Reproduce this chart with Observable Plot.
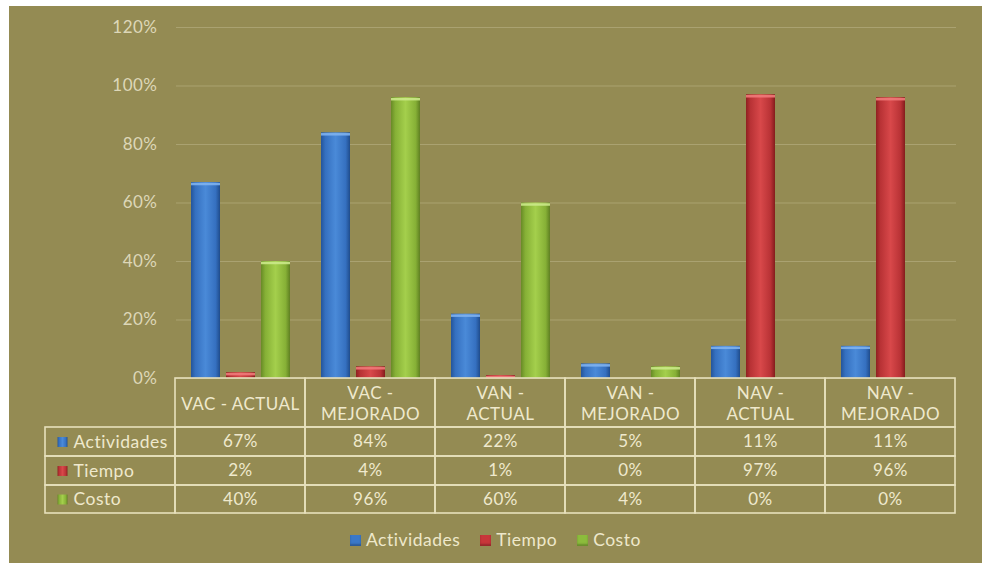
<!DOCTYPE html>
<html>
<head>
<meta charset="utf-8">
<script src="https://cdn.jsdelivr.net/npm/d3@7"></script>
<script src="https://cdn.jsdelivr.net/npm/@observablehq/plot@0.6"></script>
<style>
  html, body { margin: 0; padding: 0; background: #ffffff; }
  #wrap { position: relative; width: 982px; height: 563px; overflow: hidden; background: #ffffff; font-family: Lato, "Open Sans", sans-serif; }
  #bg { position: absolute; left: 9px; top: 6px; right: 0; bottom: 0; background: #948b53; }
  #chart, #table { position: absolute; left: 0; }
  #chart { top: 0; }
  #table { top: 377px; }
  #legend { position: absolute; top: 529px; left: 350px; display: flex; align-items: center; font-size: 17.5px; letter-spacing: 0.5px; color: #eee8cb; line-height: 22px; }
  #legend .item { display: flex; align-items: center; margin-right: 20px; }
  #legend .sw { width: 11px; height: 11px; margin-right: 5px; }
</style>
</head>
<body>
<svg width="0" height="0" style="position:absolute">
  <defs>
    <linearGradient id="gBlue" x1="0" x2="1" y1="0" y2="0">
      <stop offset="0" stop-color="#24559a"/>
      <stop offset="0.15" stop-color="#3570c0"/>
      <stop offset="0.5" stop-color="#4a8ad8"/>
      <stop offset="0.85" stop-color="#3570c0"/>
      <stop offset="1" stop-color="#1f4c8c"/>
    </linearGradient>
    <linearGradient id="gRed" x1="0" x2="1" y1="0" y2="0">
      <stop offset="0" stop-color="#8e2020"/>
      <stop offset="0.15" stop-color="#b83235"/>
      <stop offset="0.5" stop-color="#d8484a"/>
      <stop offset="0.85" stop-color="#b83235"/>
      <stop offset="1" stop-color="#841c1c"/>
    </linearGradient>
    <linearGradient id="gGreen" x1="0" x2="1" y1="0" y2="0">
      <stop offset="0" stop-color="#688a26"/>
      <stop offset="0.15" stop-color="#86b036"/>
      <stop offset="0.5" stop-color="#a4cf4c"/>
      <stop offset="0.85" stop-color="#86b036"/>
      <stop offset="1" stop-color="#5f7f22"/>
    </linearGradient>
  </defs>
</svg>
<div id="wrap">
  <div id="bg"></div>
  <div id="chart"></div>
  <div id="table"></div>
  <div id="legend"></div>
</div>
<script>
const categories = ["VAC - ACTUAL", "VAC - MEJORADO", "VAN - ACTUAL", "VAN - MEJORADO", "NAV - ACTUAL", "NAV - MEJORADO"];
const headerLabels = ["VAC - ACTUAL", "VAC -\nMEJORADO", "VAN -\nACTUAL", "VAN -\nMEJORADO", "NAV -\nACTUAL", "NAV -\nMEJORADO"];
const series = ["Actividades", "Tiempo", "Costo"];
const actividades = [67, 84, 22, 5, 11, 11];
const tiempo = [2, 4, 1, 0, 97, 96];
const costo = [40, 96, 60, 4, 0, 0];
const yTicks = [0, 20, 40, 60, 80, 100, 120];

const seriesValues = {Actividades: actividades, Tiempo: tiempo, Costo: costo};
const seriesFills = ["url(#gBlue)", "url(#gRed)", "url(#gGreen)"];
const capColors = {Actividades: "#7fb2ee", Tiempo: "#f07a7a", Costo: "#cbe98a"};
const swatchColors = {Actividades: "#3a78c8", Tiempo: "#c8363a", Costo: "#8cbc3c"};

const barData = [];
categories.forEach((c, i) => series.forEach(s => barData.push({category: c, series: s, value: seriesValues[s][i]})));

const cream = "#efe9cd";
const fontFamily = "Lato, 'Open Sans', sans-serif";

const capMarks = series.map(s => Plot.tickY(barData.filter(d => d.series === s && d.value > 0), {
  fx: "category", x: "series", y: "value", stroke: capColors[s], strokeWidth: 2.5, dy: 1.5, strokeOpacity: 0.9
}));

const chart = Plot.plot({
  width: 982,
  height: 385,
  marginTop: 27,
  marginBottom: 7,
  marginLeft: 174,
  marginRight: 25,
  style: {background: "transparent", fontFamily, fontSize: "17px", letterSpacing: "0.5px", color: "#ddd7b8", overflow: "visible"},
  fx: {domain: categories, padding: 0, axis: null, label: null},
  x: {domain: series, paddingInner: 1 / 6, paddingOuter: 0.394, axis: null},
  y: {domain: [0, 120], ticks: yTicks, tickFormat: d => d + "%", tickSize: 0, tickPadding: 19, label: null},
  color: {domain: series, range: seriesFills},
  marks: [
    Plot.gridY(yTicks, {stroke: "#aaa271", strokeOpacity: 1, strokeWidth: 1}),
    Plot.barY(barData, {fx: "category", x: "series", y: "value", fill: "series", inset: 0}),
    ...capMarks
  ]
});
document.getElementById("chart").appendChild(chart);

// table below the chart
const rowEdges = [0, 49, 78, 107, 135];
const columns = ["", ...categories];
const tableCells = [];
categories.forEach(c => tableCells.push({col: c, y1: rowEdges[0], y2: rowEdges[1]}));
series.forEach((s, r) => columns.forEach(c => tableCells.push({col: c, y1: rowEdges[r + 1], y2: rowEdges[r + 2]})));
const headerText = categories.map((c, i) => ({col: c, yc: (rowEdges[0] + rowEdges[1]) / 2, label: headerLabels[i]}));
const valueText = [];
series.forEach((s, r) => categories.forEach((c, i) => valueText.push({col: c, yc: (rowEdges[r + 1] + rowEdges[r + 2]) / 2, label: seriesValues[s][i] + "%"})));
const rowLabels = series.map((s, r) => ({col: "", yc: (rowEdges[r + 1] + rowEdges[r + 2]) / 2, series: s}));

const table = Plot.plot({
  width: 982,
  height: 138,
  marginTop: 1,
  marginBottom: 2,
  marginLeft: 43.5,
  marginRight: 25,
  style: {background: "transparent", fontFamily, fontSize: "17px", letterSpacing: "0.5px", color: cream, overflow: "visible"},
  x: {type: "band", domain: columns, padding: 0, axis: null},
  y: {domain: [0, 135], reverse: true, axis: null},
  color: {domain: series, range: seriesFills},
  marks: [
    Plot.barY(tableCells, {x: "col", y1: "y1", y2: "y2", fill: "none", stroke: "#e7e0bc", strokeWidth: 1.6, inset: 0}),
    Plot.text(headerText, {x: "col", y: "yc", text: "label", fill: cream, fontSize: 17, lineHeight: 1.2}),
    Plot.text(valueText, {x: "col", y: "yc", text: "label", fill: cream, fontSize: 17}),
    Plot.dot(rowLabels, {x: "col", y: "yc", symbol: "square", r: 5.6, fill: "series", dx: -48}),
    Plot.text(rowLabels, {x: "col", y: "yc", text: "series", textAnchor: "start", dx: -37, fill: cream, fontSize: 17.5})
  ]
});
document.getElementById("table").appendChild(table);

// legend
const legend = document.getElementById("legend");
series.forEach((s, i) => {
  const item = document.createElement("div");
  item.className = "item";
  const sw = document.createElement("div");
  sw.className = "sw";
  sw.style.background = swatchColors[s];
  sw.style.boxShadow = "inset 0 -2px 2px rgba(0,0,0,0.25)";
  const label = document.createElement("span");
  label.textContent = s;
  item.appendChild(sw);
  item.appendChild(label);
  legend.appendChild(item);
});
</script>
</body>
</html>
